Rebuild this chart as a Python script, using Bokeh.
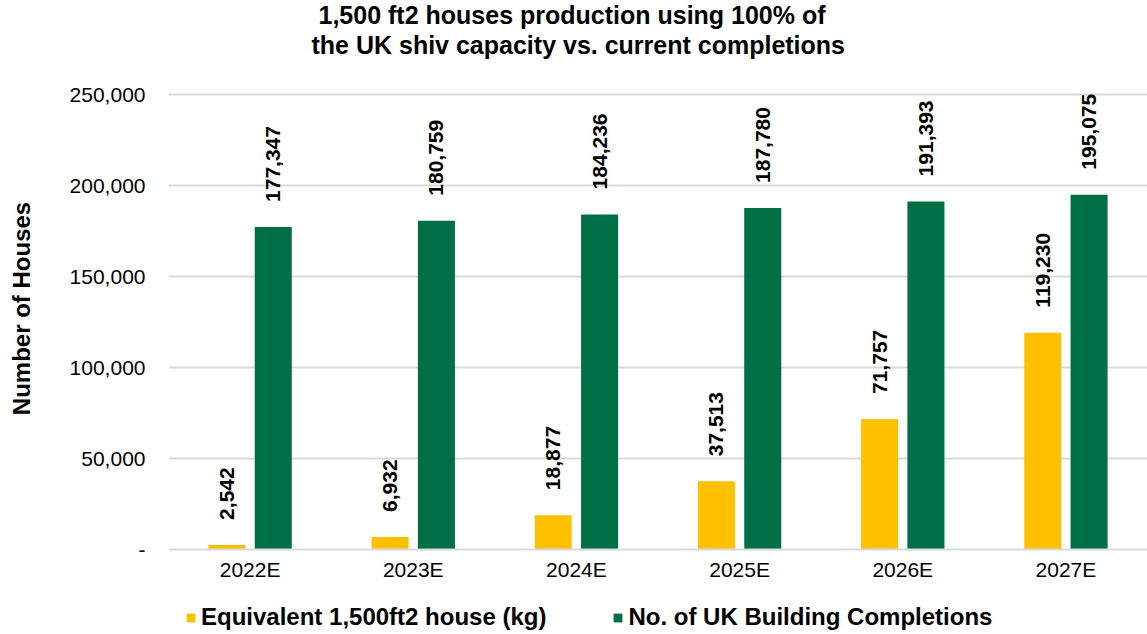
from bokeh.plotting import figure
from bokeh.layouts import column
from bokeh.models import (ColumnDataSource, Range1d, FactorRange, FixedTicker, NumeralTickFormatter,
                          Legend, LegendItem, Title)
from bokeh.transform import dodge
from bokeh.core.properties import value
from bokeh.embed import file_html
from bokeh.resources import INLINE

years = ["2022E", "2023E", "2024E", "2025E", "2026E", "2027E"]
equivalent_houses = [2542, 6932, 18877, 37513, 71757, 119230]
uk_completions = [177347, 180759, 184236, 187780, 191393, 195075]
y_ticks = [0, 50000, 100000, 150000, 200000, 250000]
title_lines = ["1,500 ft2 houses production using 100% of",
               "the UK shiv capacity vs. current completions"]
series_names = ["Equivalent 1,500ft2 house (kg)", "No. of UK Building Completions"]

FONT = "Liberation Sans"
YELLOW = "#FFC000"
GREEN = "#016F45"

src = ColumnDataSource(dict(
    year=years,
    eq=equivalent_houses,
    uk=uk_completions,
    eq_lbl=[f"{v:,}" for v in equivalent_houses],
    uk_lbl=[f"{v:,}" for v in uk_completions],
))

p = figure(width=1147, height=590, x_range=FactorRange(*years), y_range=Range1d(0, 265000),
           output_backend="svg", toolbar_location=None,
           min_border_left=168, min_border_right=0, min_border_top=67, min_border_bottom=41)
p.outline_line_color = None
p.background_fill_color = "white"
p.border_fill_color = "white"

p.vbar(x=dodge("year", -0.142, range=p.x_range), top="eq", width=0.227, source=src,
       fill_color=YELLOW, line_color=None)
p.vbar(x=dodge("year", 0.142, range=p.x_range), top="uk", width=0.227, source=src,
       fill_color=GREEN, line_color=None)

for off, col, lbl in [(-0.142, "eq", "eq_lbl"), (0.142, "uk", "uk_lbl")]:
    p.text(x=dodge("year", off, range=p.x_range), y=col, text=lbl, source=src,
           angle=1.5708, y_offset=-25, text_align="left", text_baseline="middle",
           text_font=value(FONT), text_font_size="21px", text_font_style="bold",
           text_color="#000000")

# axes
p.yaxis.ticker = FixedTicker(ticks=y_ticks)
p.yaxis.formatter = NumeralTickFormatter(format="0,0")
p.yaxis.major_label_overrides = {0: "-"}
p.yaxis.axis_line_color = None
p.yaxis.major_tick_line_color = None
p.yaxis.minor_tick_line_color = None
p.yaxis.major_tick_out = 0
p.yaxis.major_tick_in = 0
p.yaxis.major_label_standoff = 23
p.yaxis.major_label_text_font = FONT
p.yaxis.major_label_text_font_size = "21px"
p.yaxis.major_label_text_color = "#000000"
p.yaxis.axis_label = "Number of Houses"
p.yaxis.axis_label_text_font = FONT
p.yaxis.axis_label_text_font_size = "24px"
p.yaxis.axis_label_text_font_style = "bold"
p.yaxis.axis_label_text_color = "#000000"
p.yaxis.axis_label_standoff = 32

p.xaxis.axis_line_color = "#d9d9d9"
p.xaxis.axis_line_width = 2
p.xaxis.major_tick_line_color = None
p.xaxis.minor_tick_line_color = None
p.xaxis.major_tick_out = 0
p.xaxis.major_tick_in = 0
p.xaxis.major_label_standoff = 8
p.xaxis.major_label_text_font = FONT
p.xaxis.major_label_text_font_size = "21px"
p.xaxis.major_label_text_color = "#000000"

p.xgrid.grid_line_color = None
p.ygrid.grid_line_color = "#d9d9d9"
p.ygrid.grid_line_width = 2

# title (two lines; last added is outermost)
p.add_layout(Title(text=title_lines[1], align="left", offset=143, standoff=17,
                   text_font=FONT, text_font_size="25px", text_font_style="bold",
                   text_color="#000000"), "above")
p.add_layout(Title(text=title_lines[0], align="left", offset=150, standoff=-16,
                   text_font=FONT, text_font_size="25px", text_font_style="bold",
                   text_color="#000000"), "above")

# legend strip below the chart (frame aligned with the chart's frame)
lg = figure(width=1147, height=44, x_range=p.x_range, y_range=Range1d(0, 1),
            output_backend="svg", toolbar_location=None, min_border=0)
lg.axis.visible = False
lg.grid.grid_line_color = None
lg.outline_line_color = None
lg.background_fill_color = "white"
lg.border_fill_color = "white"
# zero-size keys that only feed the legend swatches
k1 = lg.vbar(x="year", top="eq", bottom="eq", width=0, source=src,
             fill_color=YELLOW, line_color=None)
k2 = lg.vbar(x="year", top="uk", bottom="uk", width=0, source=src,
             fill_color=GREEN, line_color=None)
legend = Legend(items=[LegendItem(label=series_names[0], renderers=[k1]),
                       LegendItem(label=series_names[1], renderers=[k2])],
                location=(17, 3), orientation="horizontal",
                glyph_width=11, glyph_height=11, label_standoff=5, spacing=66,
                padding=0, margin=0, border_line_color=None, background_fill_alpha=0,
                label_text_font=FONT, label_text_font_size="24px", label_text_font_style="bold",
                label_text_color="#000000")
lg.add_layout(legend, "center")

layout = column(p, lg, spacing=0)
open("out.html", "w").write(file_html(layout, INLINE))
